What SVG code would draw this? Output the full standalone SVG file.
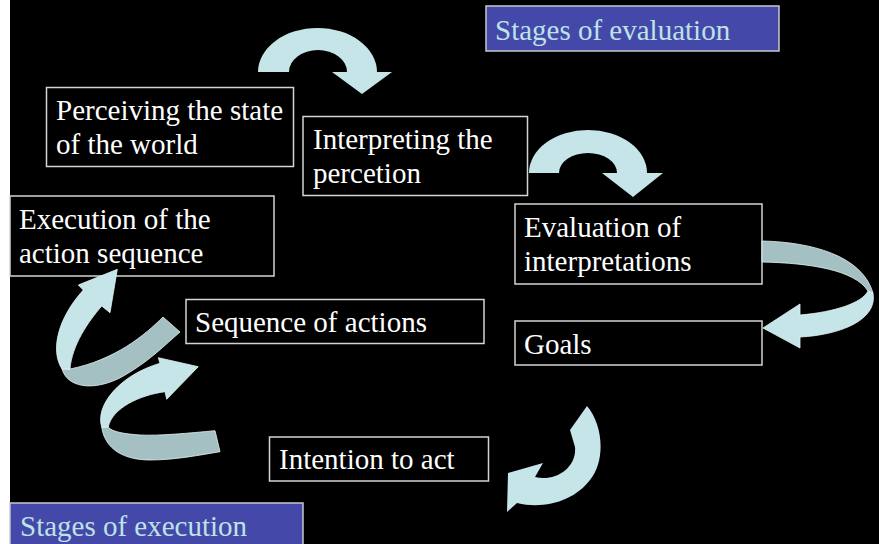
<svg xmlns="http://www.w3.org/2000/svg" width="879" height="544" viewBox="0 0 879 544">
  <style>
    .box { fill: #000000; stroke: #d4d4d4; stroke-width: 1.5; }
    .stage { fill: #4448a8; stroke: #c8c8c8; stroke-width: 1.5; }
    .label { font-family: "Liberation Serif", "Times New Roman", serif; font-size: 29px; fill: #ffffff; }
    .stage-label { font-family: "Liberation Serif", "Times New Roman", serif; font-size: 29px; fill: #bde2e8; }
    .arrow { fill: #c5e5e9; }
    .ribbon-front { fill: #c5e5e9; stroke: #e6f3f4; stroke-width: 0.8; }
    .ribbon-back { fill: #a5c0c3; stroke: #e6f3f4; stroke-width: 0.8; }
  </style>

  <!-- page -->
  <rect x="0" y="0" width="879" height="544" fill="#ffffff"/>
  <rect x="10" y="0" width="869" height="544" fill="#000000"/>

  <!-- stage headings -->
  <g id="stages-of-evaluation">
    <rect class="stage" x="486" y="6" width="293" height="45"/>
    <text class="stage-label" x="495" y="40">Stages of evaluation</text>
  </g>
  <g id="stages-of-execution">
    <rect class="stage" x="10" y="503" width="293" height="45"/>
    <text class="stage-label" x="20" y="536">Stages of execution</text>
  </g>

  <!-- stage nodes -->
  <g id="perceiving">
    <rect class="box" x="46.5" y="87.5" width="247" height="79"/>
    <text class="label" x="56" y="120">Perceiving the state</text>
    <text class="label" x="56" y="154">of the world</text>
  </g>
  <g id="interpreting">
    <rect class="box" x="303" y="116.5" width="224.5" height="79"/>
    <text class="label" x="313" y="149">Interpreting the</text>
    <text class="label" x="313" y="183">percetion</text>
  </g>
  <g id="evaluation">
    <rect class="box" x="515" y="204" width="247" height="80"/>
    <text class="label" x="524" y="237">Evaluation of</text>
    <text class="label" x="524" y="271">interpretations</text>
  </g>
  <g id="goals">
    <rect class="box" x="515" y="321" width="247" height="44"/>
    <text class="label" x="524" y="354">Goals</text>
  </g>
  <g id="intention">
    <rect class="box" x="269.5" y="437" width="219" height="44"/>
    <text class="label" x="279" y="469">Intention to act</text>
  </g>
  <g id="sequence">
    <rect class="box" x="186" y="299.5" width="298" height="44"/>
    <text class="label" x="195" y="332">Sequence of actions</text>
  </g>
  <g id="execution">
    <rect class="box" x="10" y="196" width="264" height="80"/>
    <text class="label" x="19" y="229">Execution of the</text>
    <text class="label" x="19" y="263">action sequence</text>
  </g>

  <!-- connectors -->
  <g id="connectors">
    <!-- perceiving -> interpreting -->
    <path class="arrow" d="M 258 72 A 59.5 44 0 0 1 377 72 L 392 72 L 362 94 L 332 72 L 347 72 A 29 22 0 0 0 289 72 Z"/>
    <!-- interpreting -> evaluation -->
    <path class="arrow" d="M 529 173 A 59 43 0 0 1 647 173 L 663 173 L 633 197 L 602 173 L 617 173 A 29 20 0 0 0 559 173 Z"/>
    <!-- evaluation -> goals (ribbon) -->
    <path class="ribbon-back" d="M 762 241 C 810 242, 862 255, 873 293 L 868 291 C 855 270, 810 263, 762 262 Z"/>
    <path class="ribbon-front" d="M 873 293 C 878 320, 840 335, 800 337 L 800 348 L 763 328 L 800 304 L 800 315 C 835 312, 862 303, 868 291 Z"/>
    <!-- goals -> intention -->
    <path class="arrow" d="M 587 406 C 603 425, 606 460, 590 480 C 575 500, 545 510, 517 503 L 507 512 L 508 473 L 543 463 L 535 477 C 555 482, 577 468, 575 447 L 570 430 Z"/>
    <!-- intention -> sequence (ribbon) -->
    <path class="ribbon-back" d="M 101.7 427 C 105 450, 125 460, 150 460 C 175 460, 200 455, 220 451.7 L 215 430.7 C 190 433, 160 436, 140 435 C 125 434, 112 432, 108.3 427 Z"/>
    <path class="ribbon-front" d="M 198.3 366.7 L 166.7 399.3 L 165 391.7 C 140 395, 112 408, 108.3 427 L 101.7 427 C 95 405, 120 375, 160 363.3 L 158.3 357.7 Z"/>
    <!-- sequence -> execution (ribbon) -->
    <path class="ribbon-back" d="M 62 369 C 68 390, 100 392, 130 372 C 150 360, 165 345, 180 332 L 163 317 C 145 335, 115 360, 70 369 Z"/>
    <path class="ribbon-front" d="M 117.3 269.3 L 110 312.7 L 101.7 306 C 88 322, 72 345, 70 369 L 62 369 C 50 350, 58 318, 83.3 290 L 78.3 285 Z"/>
  </g>
</svg>
